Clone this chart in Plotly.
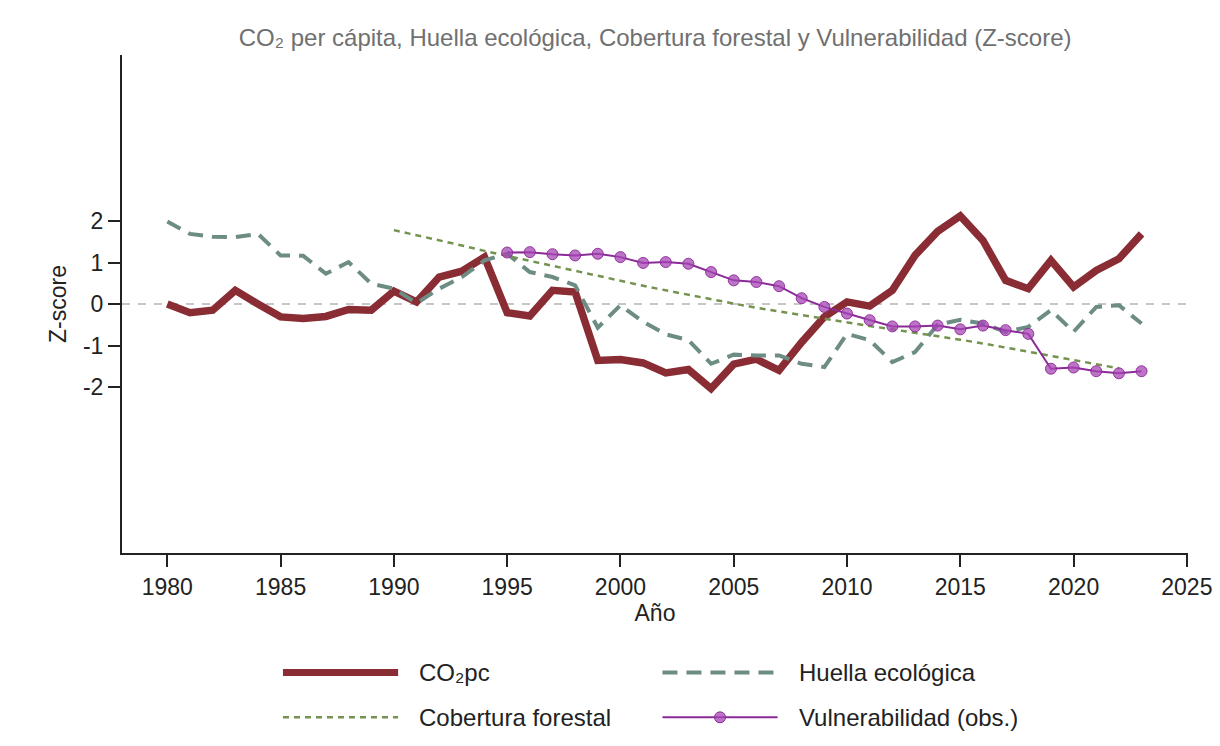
import plotly.graph_objects as go

# ---- Series (standardised values, Z-score) ----
years_co2 = list(range(1980, 2024))
co2_pc = [0.00, -0.21, -0.15, 0.33, 0.00, -0.31, -0.35, -0.30, -0.13, -0.15,
          0.31, 0.05, 0.65, 0.79, 1.13, -0.21, -0.29, 0.33, 0.29, -1.36,
          -1.34, -1.42, -1.66, -1.58, -2.04, -1.45, -1.33, -1.60, -0.92, -0.31,
          0.05, -0.05, 0.33, 1.17, 1.75, 2.12, 1.53, 0.57, 0.37, 1.05,
          0.41, 0.81, 1.09, 1.69]

years_huella = list(range(1980, 2024))
huella = [1.99, 1.69, 1.62, 1.61, 1.69, 1.17, 1.16, 0.73, 1.01, 0.49,
          0.37, 0.02, 0.37, 0.65, 1.05, 1.21, 0.77, 0.65, 0.45, -0.57,
          -0.03, -0.43, -0.73, -0.87, -1.44, -1.22, -1.24, -1.24, -1.44, -1.52,
          -0.72, -0.87, -1.40, -1.16, -0.50, -0.38, -0.47, -0.67, -0.55, -0.15,
          -0.67, -0.07, -0.03, -0.47]

years_forest = list(range(1990, 2023))
forest = [1.78, 1.66, 1.53, 1.41, 1.28, 1.16, 1.04, 0.92, 0.79, 0.67,
          0.55, 0.44, 0.33, 0.22, 0.11, 0.01, -0.09, -0.18, -0.27, -0.36,
          -0.45, -0.53, -0.61, -0.69, -0.77, -0.86, -0.95, -1.05, -1.15, -1.25,
          -1.35, -1.45, -1.55]

years_vuln = list(range(1995, 2024))
vuln = [1.24, 1.25, 1.20, 1.17, 1.21, 1.13, 0.99, 1.01, 0.97, 0.77,
        0.57, 0.53, 0.43, 0.14, -0.07, -0.23, -0.39, -0.54, -0.54, -0.52,
        -0.61, -0.52, -0.63, -0.72, -1.56, -1.53, -1.62, -1.67, -1.62]

x_ticks = [1980, 1985, 1990, 1995, 2000, 2005, 2010, 2015, 2020, 2025]
y_ticks = [-2, -1, 0, 1, 2]
y_tick_labels = ["-2", "-1", "0", "1", "2"]

FONT = "Liberation Sans, Arial, sans-serif"
C_CO2 = "#8a2c33"
C_HUELLA = "#6d8d84"
C_FOREST = "#74934f"
C_VULN = "#8b2b98"
C_VULN_MK = "rgba(166, 70, 180, 0.75)"
DASH_HUELLA = "15px,9px"
DASH_FOREST = "6px,5px"

fig = go.Figure()

fig.add_trace(go.Scatter(
    x=years_co2, y=co2_pc, mode="lines", name="CO₂pc",
    line=dict(color=C_CO2, width=7.5), showlegend=False))
fig.add_trace(go.Scatter(
    x=years_huella, y=huella, mode="lines", name="Huella ecológica",
    line=dict(color=C_HUELLA, width=4, dash=DASH_HUELLA), showlegend=False))
fig.add_trace(go.Scatter(
    x=years_forest, y=forest, mode="lines", name="Cobertura forestal",
    line=dict(color=C_FOREST, width=2.5, dash=DASH_FOREST), showlegend=False))
fig.add_trace(go.Scatter(
    x=years_vuln, y=vuln, mode="lines+markers", name="Vulnerabilidad (obs.)",
    line=dict(color=C_VULN, width=2),
    marker=dict(size=11, color=C_VULN_MK, line=dict(color="rgba(140,40,150,0.9)", width=1)),
    showlegend=False))

# reference line at zero
fig.add_hline(y=0, line=dict(color="#c6c6c6", width=2, dash="8px,8px"), layer="below")

# ---- Legend block below the plot (two columns) ----
legend_items = [
    # (label, colour, width, dash, marker, column, row)
    ("CO₂pc", C_CO2, 7, "solid", False, 0, 0),
    ("Huella ecológica", C_HUELLA, 4, DASH_HUELLA, False, 1, 0),
    ("Cobertura forestal", C_FOREST, 2.5, DASH_FOREST, False, 0, 1),
    ("Vulnerabilidad (obs.)", C_VULN, 2, "solid", True, 1, 1),
]
col_x0 = [0.151, 0.507]
col_x1 = [0.259, 0.615]
col_tx = [0.277, 0.633]
row_y = [-0.240, -0.330]
for label, color, width, dash, marker, col, row in legend_items:
    fig.add_shape(type="line", xref="paper", yref="paper",
                  x0=col_x0[col], x1=col_x1[col], y0=row_y[row], y1=row_y[row],
                  line=dict(color=color, width=width, dash=dash))
    if marker:
        xm = (col_x0[col] + col_x1[col]) / 2
        fig.add_shape(type="circle", xref="paper", yref="paper",
                      xsizemode="pixel", ysizemode="pixel",
                      xanchor=xm, yanchor=row_y[row],
                      x0=-5.5, x1=5.5, y0=-5.5, y1=5.5,
                      fillcolor=C_VULN_MK, line=dict(color=C_VULN, width=1))
    fig.add_annotation(xref="paper", yref="paper", x=col_tx[col], y=row_y[row],
                       text=label, showarrow=False, xanchor="left", yanchor="middle",
                       font=dict(family=FONT, size=24, color="#222222"))

fig.update_layout(
    width=1220, height=746,
    margin=dict(l=122, r=32, t=55, b=193),
    paper_bgcolor="white", plot_bgcolor="white",
    font=dict(family=FONT, size=23, color="#222222"),
    title=dict(
        text="CO₂ per cápita, Huella ecológica, Cobertura forestal y Vulnerabilidad (Z-score)",
        x=0.537, xanchor="center", y=0.949, yanchor="middle",
        font=dict(family=FONT, size=24, color="#707070")),
)

fig.update_xaxes(
    range=[1978, 2025.05], tickvals=x_ticks,
    showline=True, linecolor="#222222", linewidth=2,
    ticks="outside", ticklen=12, tickwidth=1.5, tickcolor="#222222",
    showgrid=False, zeroline=False, automargin=False,
    tickfont=dict(family=FONT, size=23, color="#222222"),
    title=dict(text="Año", font=dict(family=FONT, size=23, color="#222222"), standoff=4),
)
fig.update_yaxes(
    range=[-6, 6], tickvals=y_ticks, ticktext=y_tick_labels,
    showline=True, linecolor="#222222", linewidth=2,
    ticks="outside", ticklen=12, tickwidth=1.5, tickcolor="#222222",
    showgrid=False, zeroline=False, automargin=False,
    tickfont=dict(family=FONT, size=23, color="#222222"),
    title=dict(text="Z-score", font=dict(family=FONT, size=23, color="#222222"), standoff=10),
)

fig.write_html("out.html")
